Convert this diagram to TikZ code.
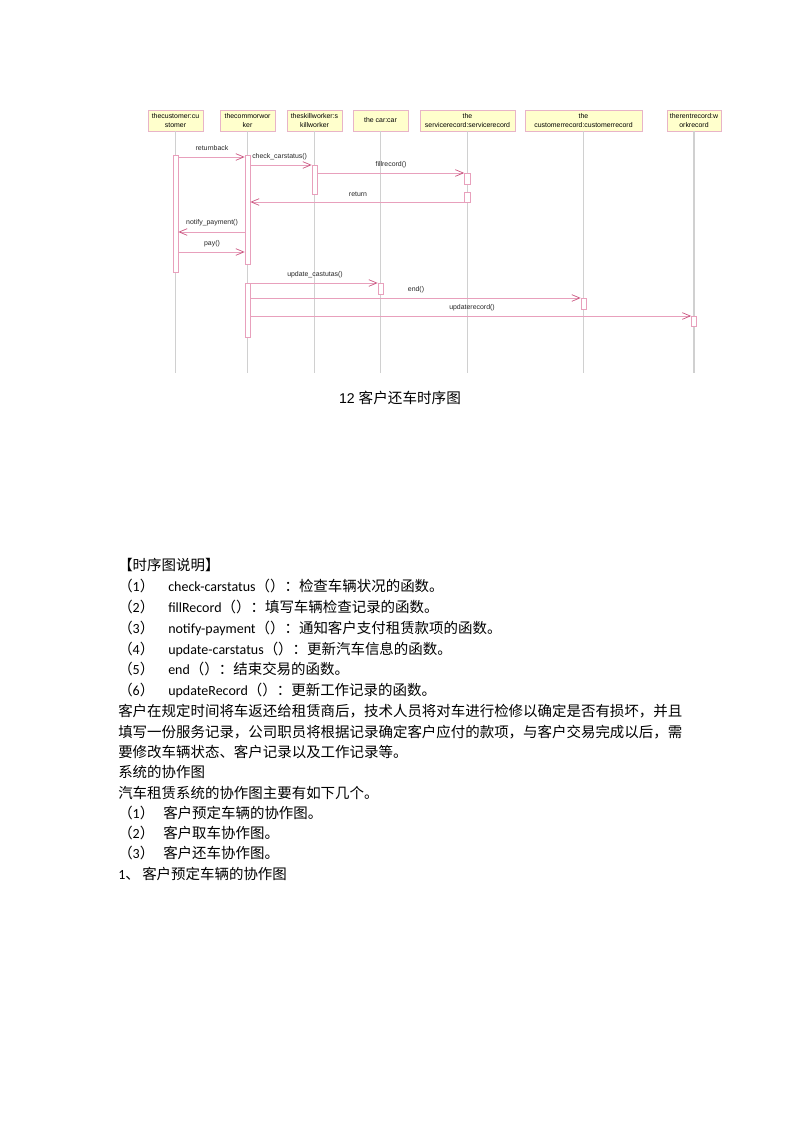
\documentclass[tikz,border=0pt]{standalone}
\usepackage{fontspec}
\setmainfont{Carlito}
\newfontfamily\cjk[Scale=1.033]{Noto Sans CJK SC}
\newfontfamily\arialf{Liberation Sans}
\usetikzlibrary{arrows.meta}
\definecolor{hdrfill}{HTML}{FFFFCC}
\definecolor{hdrline}{HTML}{E8B4C8}
\definecolor{lifegray}{HTML}{D0D0D0}
\definecolor{msgpink}{HTML}{E8A0BC}
\definecolor{tippink}{HTML}{C8507C}
\begin{document}
\begin{tikzpicture}[x=0.75pt,y=-0.75pt,
 hdr/.style={draw=hdrline, fill=hdrfill, line width=0.6pt, minimum height=15.75pt, inner sep=0pt, align=center, font=\arialf\fontsize{5.2}{6.4}\selectfont},
 life/.style={draw=lifegray, line width=0.8pt},
 act/.style={draw=msgpink, fill=white, line width=0.5pt, minimum width=3.75pt, inner sep=0pt},
 msg/.style={draw=msgpink, line width=0.5pt, -{Straight Barb[length=6pt,width=5pt,color=tippink,line width=0.5pt]}},
 lbl/.style={font=\arialf\fontsize{5.2}{6}\selectfont, inner sep=0pt, text=black!85},
 body/.style={anchor=base west, inner sep=0pt, font=\fontsize{10.5}{12}\selectfont}
]
\useasboundingbox (0,0) rectangle (794,1123);

% headers
\node[hdr, minimum width=41.25pt] (h1) at (175.5,120.5) {thecustomer:cu\\stomer};
\node[hdr, minimum width=41.25pt] (h2) at (247.5,120.5) {thecommorwor\\ker};
\node[hdr, minimum width=41.25pt] (h3) at (314.5,120.5) {theskillworker:s\\killworker};
\node[hdr, minimum width=41.25pt] (h4) at (380.5,120.5) {the car:car};
\node[hdr, minimum width=71.25pt] (h5) at (467.5,120.5) {the\\servicerecord:servicerecord};
\node[hdr, minimum width=87.75pt] (h6) at (583.5,120.5) {the\\customerrecord:customerrecord};
\node[hdr, minimum width=40.5pt] (h7) at (694,120.5) {therentrecord:w\\orkrecord};

% lifeline ends
\coordinate (e1) at (175.5,373);
\coordinate (e2) at (247.5,373);
\coordinate (e3) at (314.5,373);
\coordinate (e4) at (380.5,373);
\coordinate (e5) at (467.5,373);
\coordinate (e6) at (583.5,373);
\coordinate (e7) at (694,373);
\foreach \i in {1,...,7} { \draw[life] (h\i.south) -- (e\i); }

% activations
\node[act, minimum height=87.75pt] (a1) at (175.5,213.5) {};
\node[act, minimum height=81.75pt] (a2) at (247.5,209.5) {};
\node[act, minimum height=21.75pt] (a3) at (314.5,179.5) {};
\node[act, minimum height=8.25pt, minimum width=4.5pt] (a4) at (467.5,178.5) {};
\node[act, minimum height=7.5pt, minimum width=4.5pt] (a5) at (467.5,197) {};
\node[act, minimum height=40.5pt] (a6) at (247.5,310) {};
\node[act, minimum height=8.25pt] (a7) at (380.5,288.5) {};
\node[act, minimum height=8.25pt] (a8) at (583.5,303.5) {};
\node[act, minimum height=7.5pt] (a9) at (694,321) {};

% message rows
\coordinate (m1) at (0,157);
\coordinate (m2) at (0,165);
\coordinate (m3) at (0,173);
\coordinate (m4) at (0,202);
\coordinate (m5) at (0,232);
\coordinate (m6) at (0,252);
\coordinate (m7) at (0,283);
\coordinate (m8) at (0,298);
\coordinate (m9) at (0,316);

\draw[msg] (a1.east |- m1) -- (a2.west |- m1);
\draw[msg] (a2.east |- m2) -- (a3.west |- m2);
\draw[msg] (a3.east |- m3) -- (a4.west |- m3);
\draw[msg] (a5.west |- m4) -- (a2.east |- m4);
\draw[msg] (a2.west |- m5) -- (a1.east |- m5);
\draw[msg] (a1.east |- m6) -- (a2.west |- m6);
\draw[msg] (a6.east |- m7) -- (a7.west |- m7);
\draw[msg] (a6.east |- m8) -- (a8.west |- m8);
\draw[msg] (a6.east |- m9) -- (a9.west |- m9);

% message labels
\node[lbl] (l1) at (212,148) {returnback};
\node[lbl, anchor=west] (l2) at (252,157) {check\_carstatus()};
\node[lbl] (l3) at (391,165) {fillrecord()};
\node[lbl] (l4) at (358,194) {return};
\node[lbl] (l5) at (212,223) {notify\_payment()};
\node[lbl] (l6) at (212,244) {pay()};
\node[lbl] (l7) at (315,275) {update\_castutas()};
\node[lbl] (l8) at (416,290) {end()};
\node[lbl] (l9) at (472,308) {updaterecord()};

% caption
\node[inner sep=0pt] (cap) at (400,398) {\arialf\fontsize{10.6}{13}\selectfont 12 {\cjk 客户还车时序图}};

% body text
\node[body] (t0) at (118,570) {\cjk 【时序图说明】};
\node[body] (n1) at (118,591) {{\cjk （}1{\cjk ）}};
\node[body] (s1) at (168,591) {check-carstatus{\cjk （）：检查车辆状况的函数。}};
\node[body] (n2) at (118,612) {{\cjk （}2{\cjk ）}};
\node[body] (s2) at (168,612) {fillRecord{\cjk （）：填写车辆检查记录的函数。}};
\node[body] (n3) at (118,633) {{\cjk （}3{\cjk ）}};
\node[body] (s3) at (168,633) {notify-payment{\cjk （）：通知客户支付租赁款项的函数。}};
\node[body] (n4) at (118,654) {{\cjk （}4{\cjk ）}};
\node[body] (s4) at (168,654) {update-carstatus{\cjk （）：更新汽车信息的函数。}};
\node[body] (n5) at (118,674) {{\cjk （}5{\cjk ）}};
\node[body] (s5) at (168,674) {end{\cjk （）：结束交易的函数。}};
\node[body] (n6) at (118,695) {{\cjk （}6{\cjk ）}};
\node[body] (s6) at (168,695) {updateRecord{\cjk （）：更新工作记录的函数。}};
\node[body] (p1) at (118,716) {\cjk 客户在规定时间将车返还给租赁商后，技术人员将对车进行检修以确定是否有损坏，并且};
\node[body] (p2) at (118,737) {\cjk 填写一份服务记录，公司职员将根据记录确定客户应付的款项，与客户交易完成以后，需};
\node[body] (p3) at (118,757) {\cjk 要修改车辆状态、客户记录以及工作记录等。};
\node[body] (p4) at (118,777) {\cjk 系统的协作图};
\node[body] (p5) at (118,798) {\cjk 汽车租赁系统的协作图主要有如下几个。};
\node[body] (c1n) at (118,818) {{\cjk （}1{\cjk ）}};
\node[body] (c1) at (163,818) {\cjk 客户预定车辆的协作图。};
\node[body] (c2n) at (118,838) {{\cjk （}2{\cjk ）}};
\node[body] (c2) at (163,838) {\cjk 客户取车协作图。};
\node[body] (c3n) at (118,858) {{\cjk （}3{\cjk ）}};
\node[body] (c3) at (163,858) {\cjk 客户还车协作图。};
\node[body] (k1) at (118,879) {1{\cjk 、}};
\node[body] (k1t) at (142,879) {\cjk 客户预定车辆的协作图};
\end{tikzpicture}
\end{document}
